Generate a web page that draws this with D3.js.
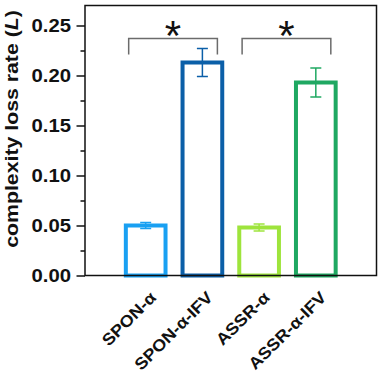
<!DOCTYPE html>
<html>
<head>
  <meta charset="utf-8">
  <title>complexity-loss</title>
  <style>
    body { margin: 0; background: #fff; }
    text { font-family: "Liberation Sans", Arial, sans-serif; font-weight: bold; }
  </style>
  <script src="https://d3js.org/d3.v7.min.js"></script>
</head>
<body>
<script type="text/javascript">

  // data
  var groups = ["SPON-α", "SPON-α-IFV", "ASSR-α", "ASSR-α-IFV"];
  var rates = [0.050, 0.213, 0.048, 0.193];
  var errors = [0.003, 0.014, 0.0035, 0.0145];
  var colors = ["#19a0f2", "#0b5fa8", "#9ee43c", "#1fa862"];
  var yTicks = [0, 0.05, 0.10, 0.15, 0.20, 0.25];
  var yMinor = [0.025, 0.075, 0.125, 0.175, 0.225];
  var brackets = [[0, 1], [2, 3]];

  var W = 383, H = 373;
  var margin = {top: 5.5, right: 6.5, bottom: 97.5, left: 85};
  var width = W - margin.left - margin.right;
  var height = H - margin.top - margin.bottom;

  var svg = d3.select("body").append("svg")
    .attr("width", W)
    .attr("height", H);

  var g = svg.append("g")
    .attr("transform", "translate(" + margin.left + "," + margin.top + ")");

  var x = d3.scaleBand()
    .domain(groups)
    .range([0, width])
    .paddingInner(0.3)
    .paddingOuter(0.72);

  var y = d3.scaleLinear()
    .domain([0, 0.27])
    .range([height, 0]);

  // the picture's text runs a bit wider than plain Arial, stretch it
  function widen(sel, k) {
    sel.each(function() {
      var n = this.getComputedTextLength();
      d3.select(this).attr("textLength", n * k).attr("lengthAdjust", "spacingAndGlyphs");
    });
  }

  // bars (open, coloured outline)
  g.selectAll(".bar")
    .data(groups)
    .enter().append("rect")
      .attr("class", "bar")
      .attr("x", function(d) { return x(d); })
      .attr("y", function(d, i) { return y(rates[i]); })
      .attr("width", x.bandwidth())
      .attr("height", function(d, i) { return y(0) - y(rates[i]); })
      .attr("fill", "none")
      .attr("stroke", function(d, i) { return colors[i]; })
      .attr("stroke-width", 4);

  // error bars
  var cap = 5.5;
  var eb = g.selectAll(".err")
    .data(groups)
    .enter().append("g")
      .attr("class", "err")
      .attr("stroke", function(d, i) { return colors[i]; })
      .attr("stroke-width", 1.5);
  eb.append("line")
    .attr("x1", function(d) { return x(d) + x.bandwidth() / 2; })
    .attr("x2", function(d) { return x(d) + x.bandwidth() / 2; })
    .attr("y1", function(d, i) { return y(rates[i] + errors[i]); })
    .attr("y2", function(d, i) { return y(rates[i] - errors[i]); });
  [1, -1].forEach(function(s) {
    eb.append("line")
      .attr("x1", function(d) { return x(d) + x.bandwidth() / 2 - cap; })
      .attr("x2", function(d) { return x(d) + x.bandwidth() / 2 + cap; })
      .attr("y1", function(d, i) { return y(rates[i] + s * errors[i]); })
      .attr("y2", function(d, i) { return y(rates[i] + s * errors[i]); });
  });

  // significance brackets
  var bTop = y(0.237), bLow = y(0.221);
  brackets.forEach(function(p) {
    var x1 = x(groups[p[0]]) + x.bandwidth() / 2 - 17;
    var x2 = x(groups[p[1]]) + x.bandwidth() / 2 + 15;
    g.append("path")
      .attr("d", "M" + x1 + "," + bLow + "V" + bTop + "H" + x2 + "V" + bLow)
      .attr("fill", "none")
      .attr("stroke", "#6b6b6b")
      .attr("stroke-width", 1.5);
    g.append("text")
      .attr("x", (x1 + x2) / 2)
      .attr("y", bTop + 11)
      .attr("text-anchor", "middle")
      .style("font-weight", "normal")
      .style("font-size", "42px")
      .attr("fill", "#111")
      .text("*");
  });

  // y axis with minor ticks
  var yAxis = g.append("g")
    .attr("class", "axis axis--y")
    .call(d3.axisLeft(y).tickValues(yTicks).tickSize(8.5).tickPadding(5.5)
      .tickFormat(d3.format(".2f")));
  yAxis.select(".domain").remove();
  yAxis.selectAll("line").attr("stroke", "#111").attr("stroke-width", 1.5);
  yAxis.selectAll("text").style("font-size", "17.5px").attr("fill", "#111")
    .call(widen, 1.16);

  g.append("g")
    .call(d3.axisLeft(y).tickValues(yMinor).tickSize(4.5).tickFormat(""))
    .call(function(s) { s.select(".domain").remove(); })
    .selectAll("line").attr("stroke", "#111").attr("stroke-width", 1.5);

  // frame
  g.append("rect")
    .attr("width", width)
    .attr("height", height)
    .attr("fill", "none")
    .attr("stroke", "#111")
    .attr("stroke-width", 1.5);

  // x labels
  g.selectAll(".xlab")
    .data(groups)
    .enter().append("text")
      .attr("class", "xlab")
      .attr("text-anchor", "end")
      .attr("transform", function(d) {
        return "translate(" + (x(d) + x.bandwidth() / 2 + 11.5) + "," + (height + 23) + ") rotate(-45)";
      })
      .style("font-size", "16.5px")
      .attr("fill", "#111")
      .text(function(d) { return d; })
      .call(widen, 1.1);

  // y title
  var yt = svg.append("text")
    .attr("transform", "translate(17.5,129) rotate(-90)")
    .attr("text-anchor", "middle")
    .style("font-size", "18.5px")
    .attr("fill", "#111");
  yt.append("tspan").text("complexity loss rate (");
  yt.append("tspan").style("font-style", "italic").text("L");
  yt.append("tspan").text(")");
  yt.call(widen, 1.15);

</script>
</body>
</html>
